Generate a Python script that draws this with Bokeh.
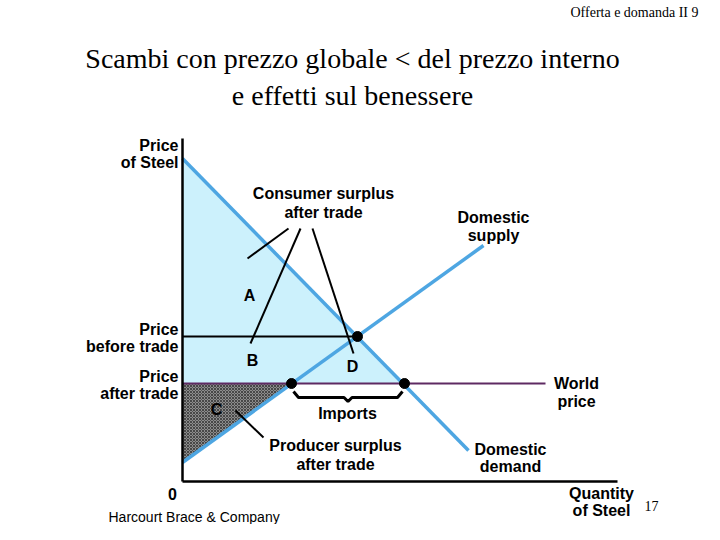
from bokeh.plotting import figure
from bokeh.models import ColumnDataSource, Range1d
from bokeh.core.properties import value
from bokeh.embed import file_html
from bokeh.resources import INLINE

# ---- data (economic units: quantity, price) ----
demand_q = [0, 286]
demand_p = [323, 31]
supply_q = [0, 301]
supply_p = [19, 236]
world_price = 98
price_before = 145
q_equil = 175
q_supplied_world = 109
q_demanded_world = 222
world_line_end = 363
axis_q_max = 435
axis_p_max = 343

SANS = "Liberation Sans"
SERIF = "Liberation Serif"

p = figure(width=704, height=524, output_backend="svg", toolbar_location=None,
           x_range=Range1d(-182, 522), y_range=Range1d(-43, 481),
           min_border=0, outline_line_color=None)
p.axis.visible = False
p.grid.visible = False
p.background_fill_color = "white"
p.border_fill_color = "white"

BLUE = "#4ea6e2"

# consumer surplus area (under demand, above world price)
d_top = demand_p[0]
p.patch([0, 0, q_demanded_world], [d_top, world_price, world_price],
        fill_color="#ccf1fc", line_color=None)
# producer surplus area (above supply, below world price)
p.patch([0, 0, q_supplied_world], [world_price, supply_p[0], world_price],
        fill_color="#8c8c8c", line_color=None,
        hatch_pattern="diagonal_cross", hatch_color="#2a2a2a",
        hatch_scale=3, hatch_weight=0.7)

# price lines
p.line([0, q_equil], [price_before, price_before], line_color="black", line_width=2)
p.line([0, world_line_end], [world_price, world_price], line_color="#5e2a62", line_width=2)

# curves
p.line(demand_q, demand_p, line_color=BLUE, line_width=3.5)
p.line(supply_q, supply_p, line_color=BLUE, line_width=3.5)

# axes
p.line([0, 0], [0, axis_p_max], line_color="black", line_width=2.5)
p.line([0, axis_q_max], [0, 0], line_color="black", line_width=2.5)

# intersection dots
p.scatter([q_equil, q_supplied_world, q_demanded_world],
          [price_before, world_price, world_price],
          size=10, color="black")

# imports brace
qa, qb = q_supplied_world + 2, q_demanded_world - 2
qm = (qa + qb) / 2
p.line([qa, qa + 5, qm - 4, qm, qm + 4, qb - 5, qb],
       [world_price - 8, world_price - 14, world_price - 14, world_price - 18,
        world_price - 14, world_price - 14, world_price - 8],
       line_color="black", line_width=3)

# leader lines
leaders = [
    ([106, 65], [253, 223]),
    ([118, 68], [253, 138]),
    ([130, 171], [253, 128]),
    ([53, 81], [71, 44]),
]
for xs, ys in leaders:
    p.line(xs, ys, line_color="black", line_width=2)

# labels (text, q, p, align)
labels = [
    ("Price", -4, 336, "right"),
    ("of Steel", -4, 319, "right"),
    ("Consumer surplus", 141, 288, "center"),
    ("after trade", 141, 269, "center"),
    ("Domestic", 311, 264, "center"),
    ("supply", 311, 246, "center"),
    ("A", 67, 186, "center"),
    ("Price", -4, 152, "right"),
    ("before trade", -4, 135, "right"),
    ("B", 70, 121, "center"),
    ("D", 170, 115, "center"),
    ("Price", -4, 105, "right"),
    ("after trade", -4, 88, "right"),
    ("World", 394, 98, "center"),
    ("price", 394, 80, "center"),
    ("C", 34, 72, "center"),
    ("Imports", 165, 68, "center"),
    ("Producer surplus", 153, 36, "center"),
    ("after trade", 153, 17, "center"),
    ("Domestic", 328, 32, "center"),
    ("demand", 328, 15, "center"),
    ("0", -10, -12, "center"),
    ("Quantity", 419, -12, "center"),
    ("of Steel", 419, -29, "center"),
]
src = ColumnDataSource(dict(
    text=[l[0] for l in labels], x=[l[1] for l in labels],
    y=[l[2] for l in labels], align=[l[3] for l in labels]))
p.text(x="x", y="y", text="text", source=src, text_align="align",
       text_baseline="middle", text_font=value(SANS), text_font_size="16px",
       text_font_style="bold", text_color="black")

p.text(x=[-74], y=[-35], text=["Harcourt Brace & Company"], text_align="left",
       text_baseline="middle", text_font=value(SANS), text_font_size="14px",
       text_color="black")

# serif texts
p.text(x=[170, 170], y=[423, 386],
       text=["Scambi con prezzo globale < del prezzo interno", "e effetti sul benessere"],
       text_align="center", text_baseline="middle", text_font=value(SERIF),
       text_font_size="28px", text_color="black")
p.text(x=[516], y=[469], text=["Offerta e domanda II 9"], text_align="right",
       text_baseline="middle", text_font=value(SERIF), text_font_size="14px",
       text_color="black")
p.text(x=[469], y=[-24], text=["17"], text_align="center",
       text_baseline="middle", text_font=value(SERIF), text_font_size="14px",
       text_color="black")

open("out.html", "w").write(file_html(p, INLINE))
